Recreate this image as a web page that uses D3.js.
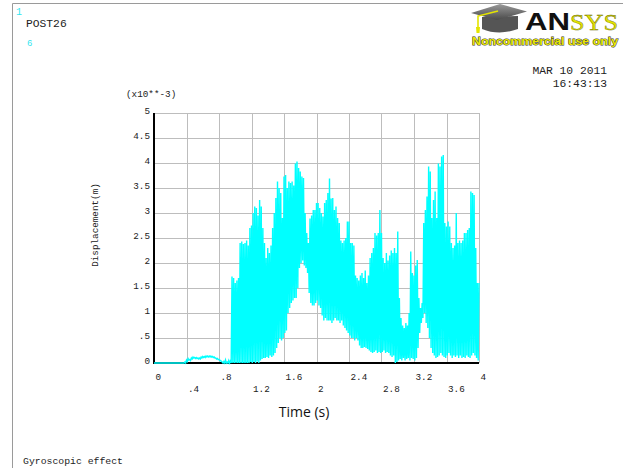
<!DOCTYPE html>
<html>
<head>
<meta charset="utf-8">
<script src="https://cdn.jsdelivr.net/npm/d3@7"></script>
<style>
  html, body { margin: 0; padding: 0; background: #fff; }
  svg { display: block; }
  .mono { font-family: "Liberation Mono", "DejaVu Sans Mono", monospace; fill: #222; }
</style>
</head>
<body>
<svg id="chart" width="623" height="468"></svg>
<script>
// POST26 time-history: displacement (x10**-3 m) against time (s)
const timeStep = 0.02;           // sample spacing of the envelope arrays (s)
// upper envelope of the response, one value per sample from t = 0
const upper = [
  0,0,0,0,0,0,0,0,0,0, 0,0,0,0,0,0,0,0,0,0.02,
  0.06,0.09,0.07,0.1,0.12,0.11,0.11,0.1,0.1,0.12,
  0.13,0.13,0.14,0.14,0.14,0.14,0.13,0.12,0.1,0.09,
  0.07,0.05,0.02,0.03,0.06,0.02,0.05,0.04,
  1.73,1.70,1.60,1.65,1.70,2.40,2.43,2.38,2.40,2.45,
  2.35,2.70,2.75,3.00,3.13,3.10,2.95,3.26,3.13,2.70,
  2.40,2.10,2.30,2.20,2.35,2.70,3.00,3.30,3.63,3.50,
  3.40,2.90,3.73,3.76,3.50,3.63,3.60,3.63,3.55,3.99,
  4.03,3.90,3.83,3.73,3.70,3.00,2.60,2.40,2.89,2.95,
  3.06,3.06,3.20,3.20,3.10,3.00,2.93,3.20,3.26,3.40,
  3.69,3.29,3.30,3.06,3.13,2.90,2.80,2.45,2.40,2.45,
  2.50,2.83,2.83,2.40,2.40,2.35,1.75,1.70,1.65,1.75,
  1.80,1.70,1.85,1.60,1.75,2.10,2.20,2.30,2.60,2.55,
  2.60,3.06,2.60,2.10,2.00,2.20,2.05,2.15,2.25,2.20,
  2.30,2.20,2.63,1.30,0.90,0.75,0.70,0.80,0.75,1.00,
  2.23,1.80,1.75,1.95,2.06,1.30,1.10,1.20,2.80,3.06,
  3.33,3.93,3.83,2.90,3.26,3.43,2.90,3.99,3.93,4.13,
  4.16,2.80,2.73,2.83,2.73,2.40,2.30,2.35,3.00,2.40,
  2.45,2.40,2.45,2.60,2.60,2.66,2.70,3.43,3.40,3.36,
  2.30,1.60,1.60
];
// lower envelope of the response, same sampling
const lower = [
  0,0,0,0,0,0,0,0,0,0, 0,0,0,0,0,0,0,0,0,0,
  0.03,0.06,0.05,0.08,0.1,0.09,0.09,0.08,0.08,0.1,
  0.11,0.11,0.12,0.12,0.12,0.12,0.11,0.1,0.08,0.07,
  0.05,0.03,0,0,0,0,0,0,
  0,0,0,0,0,0,0,0,0,0,
  0,0.02,0,0.02,0,0.03,0,0.05,0.08,0.1,
  0.1,0.12,0.1,0.15,0.12,0.15,0.2,0.3,0.4,0.5,
  0.45,0.5,0.6,0.65,1.0,1.1,1.2,1.25,1.3,1.3,
  1.5,1.9,2.0,2.05,1.95,1.9,1.8,1.4,1.2,1.15,
  1.15,1.2,1.25,1.15,1.1,0.95,0.85,0.9,0.85,0.85,
  0.85,0.8,0.85,0.9,0.85,0.85,0.8,0.85,0.75,0.7,
  0.65,0.6,0.55,0.5,0.5,0.45,0.5,0.45,0.35,0.3,
  0.3,0.32,0.3,0.28,0.25,0.22,0.2,0.22,0.25,0.2,
  0.22,0.2,0.22,0.25,0.2,0.22,0.2,0.15,0.12,0.15,
  0,0.02,0.05,0.08,0.05,0.1,0.05,0.08,0.1,0.05,
  0.1,0.08,0.05,0.1,0.3,0.6,0.8,0.9,1.0,0.8,
  0.7,0.5,0.3,0.2,0.15,0.1,0.12,0.15,0.2,0.15,
  0.12,0.1,0.15,0.2,0.15,0.1,0.15,0.12,0.15,0.1,
  0.15,0.1,0.12,0.1,0.15,0.12,0.1,0.15,0.2,0.15,
  0.1,0.05,0.05
];
const yTicks = [0, 0.5, 1, 1.5, 2, 2.5, 3, 3.5, 4, 4.5, 5];
const yTickLabels = ["0", ".5", "1", "1.5", "2", "2.5", "3", "3.5", "4", "4.5", "5"];
const xTicks = [0, 0.4, 0.8, 1.2, 1.6, 2, 2.4, 2.8, 3.2, 3.6, 4];
const xTickLabels = ["0", ".4", ".8", "1.2", "1.6", "2", "2.4", "2.8", "3.2", "3.6", "4"];

const svg = d3.select("#chart");
const x = d3.scaleLinear().domain([0, 4]).range([154, 479]);
const y = d3.scaleLinear().domain([0, 5]).range([363, 113]);

// page frame
svg.append("path").attr("d", "M12.5,468 V3.5 H623")
  .attr("fill", "none").attr("stroke", "#9a9a9a").attr("stroke-width", 1);

// header texts
svg.append("text").attr("x", 16).attr("y", 15).attr("class", "mono")
  .style("font-size", "10px").style("fill", "#33e6f0").text("1");
svg.append("text").attr("x", 26).attr("y", 27).attr("class", "mono")
  .style("font-size", "11.3px").text("POST26");
svg.append("text").attr("x", 27).attr("y", 46).attr("class", "mono")
  .style("font-size", "9px").style("fill", "#33e6f0").text("6");
svg.append("text").attr("x", 607).attr("y", 74).attr("class", "mono")
  .attr("text-anchor", "end").style("font-size", "11.3px").text("MAR 10 2011");
svg.append("text").attr("x", 607).attr("y", 87).attr("class", "mono")
  .attr("text-anchor", "end").style("font-size", "11.3px").text("16:43:13");
svg.append("text").attr("x", 23).attr("y", 464).attr("class", "mono")
  .style("font-size", "9.8px").text("Gyroscopic effect");

// logo: mortarboard + wordmark
const logo = svg.append("g");
const capGrad = svg.append("defs").append("linearGradient").attr("id", "capg")
  .attr("x1", 0).attr("y1", 0).attr("x2", 0).attr("y2", 1);
capGrad.append("stop").attr("offset", 0).attr("stop-color", "#9a9a9a");
capGrad.append("stop").attr("offset", 1).attr("stop-color", "#4a4a4a");
logo.append("path").attr("d", "M482,17 L482,29 Q499,36 518,29 L518,16 Z").attr("fill", "#555");
logo.append("path").attr("d", "M471,13 L500,4 L527,11.5 L497,20 Z").attr("fill", "url(#capg)");
logo.append("path").attr("d", "M498,11 L478,16 L478,29").attr("fill", "none")
  .attr("stroke", "#e4e400").attr("stroke-width", 1.6);
logo.append("path").attr("d", "M476,27 L480,27 L479.5,33 L476.5,33 Z").attr("fill", "#e4e400");
logo.append("text").attr("x", 525).attr("y", 30)
  .attr("textLength", 45).attr("lengthAdjust", "spacingAndGlyphs")
  .style("font-family", "Liberation Sans").style("font-weight", "bold")
  .style("font-size", "23px").style("fill", "#111").text("AN");
logo.append("text").attr("x", 570).attr("y", 30)
  .attr("textLength", 48).attr("lengthAdjust", "spacingAndGlyphs")
  .style("font-family", "Liberation Serif").style("font-size", "23px")
  .style("fill", "#e4e400").style("stroke", "#6a6a00").style("stroke-width", 0.4).text("SYS");
logo.append("text").attr("x", 472).attr("y", 45)
  .attr("textLength", 146).attr("lengthAdjust", "spacingAndGlyphs")
  .style("font-family", "Liberation Sans").style("font-weight", "bold")
  .style("font-size", "11px").style("fill", "#e8e800")
  .style("stroke", "#333").style("stroke-width", 0.9).style("paint-order", "stroke")
  .text("Noncommercial use only");

// grid
const grid = svg.append("g").attr("stroke", "#bdbdbd").attr("stroke-width", 1);
grid.selectAll(".gv").data(xTicks.slice(1)).join("line")
  .attr("x1", d => Math.round(x(d)) + 0.5).attr("x2", d => Math.round(x(d)) + 0.5)
  .attr("y1", y(5)).attr("y2", y(0));
grid.selectAll(".gh").data(yTicks.slice(1)).join("line")
  .attr("x1", x(0)).attr("x2", x(4))
  .attr("y1", d => Math.round(y(d)) + 0.5).attr("y2", d => Math.round(y(d)) + 0.5);

// axes
const yAxis = svg.append("g").attr("transform", `translate(${x(0)},0)`)
  .call(d3.axisLeft(y).tickValues(yTicks).tickSize(0).tickPadding(4)
    .tickFormat((d, i) => yTickLabels[i]));
const xAxis = svg.append("g").attr("transform", `translate(0,${y(0)})`)
  .call(d3.axisBottom(x).tickValues(xTicks).tickSize(0).tickPadding(0)
    .tickFormat((d, i) => xTickLabels[i]));
[yAxis, xAxis].forEach(g => {
  g.select(".domain").remove();
  g.selectAll("text").attr("class", "mono").style("font-size", "9.3px").attr("fill", "#222");
});
yAxis.selectAll("text").attr("dy", "0.05em");
xAxis.selectAll("text").attr("text-anchor", "start").attr("dx", 1)
  .attr("dy", null).attr("y", (d, i) => i % 2 === 0 ? 17 : 29);

svg.append("line").attr("x1", x(0)).attr("x2", x(0)).attr("y1", y(5)).attr("y2", y(0) + 1)
  .attr("stroke", "#000").attr("stroke-width", 2);
svg.append("line").attr("x1", x(0) - 1).attr("x2", x(4)).attr("y1", y(0)).attr("y2", y(0))
  .attr("stroke", "#000").attr("stroke-width", 2);

// axis titles
svg.append("text").attr("x", 126).attr("y", 97).attr("class", "mono")
  .style("font-size", "9.3px").text("(x10**-3)");
svg.append("text").attr("class", "mono").style("font-size", "9.3px")
  .attr("text-anchor", "middle")
  .attr("transform", "translate(98,225) rotate(-90)").text("Displacement(m)");
svg.append("text").attr("x", 304).attr("y", 417).attr("text-anchor", "middle")
  .style("font-family", "Open Sans").style("font-size", "14px").style("fill", "#111")
  .text("Time (s)");

// response trace: oscillation swinging between the two envelopes
const n = Math.min(upper.length, lower.length);
const pts = [];
for (let i = 0; i < n; i++) {
  pts.push([i * timeStep, upper[i]]);
  if (i < n - 1) pts.push([i * timeStep + timeStep / 2, lower[i]]);
}
svg.append("path").datum(pts)
  .attr("fill", "none").attr("stroke", "#00ffff").attr("stroke-width", 1.4)
  .attr("stroke-linejoin", "miter")
  .attr("d", d3.line().x(d => x(d[0])).y(d => y(d[1])));
</script>
</body>
</html>
